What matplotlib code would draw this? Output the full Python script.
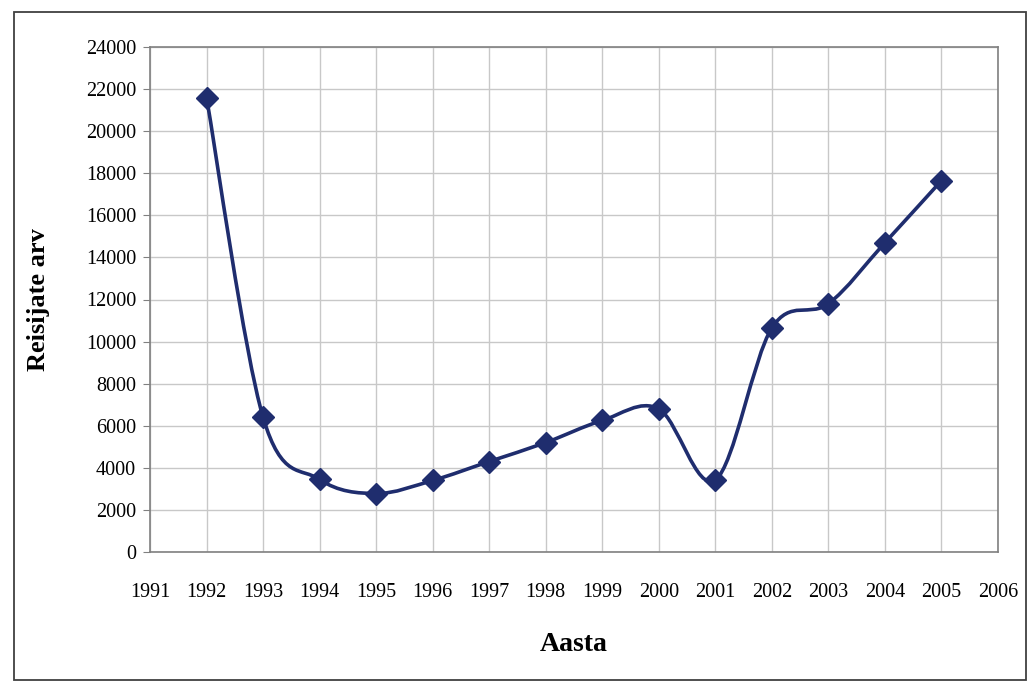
import matplotlib
matplotlib.use("Agg")
import matplotlib.pyplot as plt
from matplotlib.path import Path
from matplotlib.patches import PathPatch, Rectangle
import numpy as np

years = [1992, 1993, 1994, 1995, 1996, 1997, 1998, 1999, 2000, 2001, 2002, 2003, 2004, 2005]
passengers = [21600, 6400, 3450, 2780, 3400, 4300, 5200, 6250, 6800, 3420, 10650, 11800, 14700, 17650]
x_ticks = list(range(1991, 2007))
y_ticks = list(range(0, 24001, 2000))

LINE = "#1f2d6e"
plt.rcParams['font.family'] = ['Liberation Serif', 'DejaVu Serif']

fig = plt.figure(figsize=(10.32, 6.83), dpi=100)
fig.patch.set_facecolor("white")
ax = fig.add_axes([150/1032, 1-552/683, (998-150)/1032, (552-47)/683])

# smoothed line (Excel-style Bezier through the data points)
xs = np.array(years, dtype=float)
ys = np.array(passengers, dtype=float)
n = len(xs)
verts = [(xs[0], ys[0])]
codes = [Path.MOVETO]
for i in range(n - 1):
    p0 = np.array([xs[max(i-1, 0)], ys[max(i-1, 0)]])
    p1 = np.array([xs[i], ys[i]])
    p2 = np.array([xs[i+1], ys[i+1]])
    p3 = np.array([xs[min(i+2, n-1)], ys[min(i+2, n-1)]])
    c1 = p1 + (p2 - p0) / 6.0
    c2 = p2 - (p3 - p1) / 6.0
    verts += [tuple(c1), tuple(c2), tuple(p2)]
    codes += [Path.CURVE4, Path.CURVE4, Path.CURVE4]
ax.add_patch(PathPatch(Path(verts, codes), facecolor="none", edgecolor=LINE, lw=2.6, zorder=3))
ax.plot(years, passengers, linestyle="none", marker="D", markersize=11,
        color=LINE, markeredgecolor=LINE, zorder=4)

ax.set_xlim(1991, 2006)
ax.set_ylim(0, 24000)
ax.set_xticks(x_ticks)
ax.set_yticks(y_ticks)
ax.set_xticklabels([str(t) for t in x_ticks], fontsize=14.5)
ax.set_yticklabels([str(t) for t in y_ticks], fontsize=14.5)
ax.grid(True, color="#c8c8c8", lw=1.0)
ax.set_axisbelow(True)
for s in ax.spines.values():
    s.set_color("#808080")
    s.set_linewidth(1.2)
ax.tick_params(axis="x", length=0, pad=22)
ax.tick_params(axis="y", length=5, color="#808080", pad=5)

ax.set_xlabel("Aasta", fontsize=20, fontweight="bold", labelpad=22)
ax.set_ylabel("Reisijate arv", fontsize=19, fontweight="bold", labelpad=26)

fig.add_artist(Rectangle((14/1032, 1-680/683), (1026-14)/1032, (680-12)/683,
                         transform=fig.transFigure, fill=False, edgecolor="#404040", lw=1.3))

fig.savefig("out.png", dpi=100)
